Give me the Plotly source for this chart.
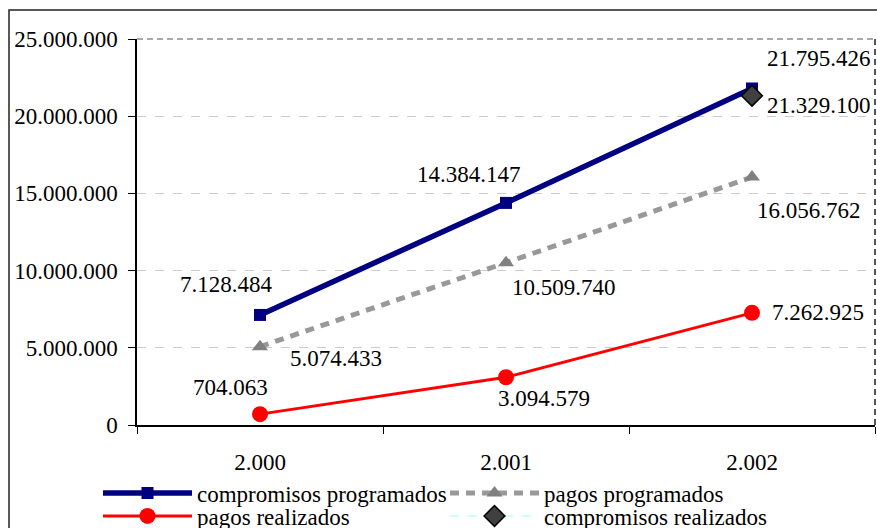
import plotly.graph_objects as go

# Datos
years = ["2.000", "2.001", "2.002"]
compromisos_programados = [7128484, 14384147, 21795426]
pagos_programados = [5074433, 10509740, 16056762]
pagos_realizados = [704063, 3094579, 7262925]
compromisos_realizados = [None, None, 21329100]

FONT = "Liberation Serif, Times New Roman, serif"
FS = 23


def fmt(v):
    return f"{v:,}".replace(",", ".")


fig = go.Figure()

fig.add_trace(go.Scatter(
    x=years, y=compromisos_programados, name="compromisos programados",
    mode="lines+markers", legend="legend",
    line=dict(color="#000080", width=5.5),
    marker=dict(symbol="square", size=12, color="#000080"),
))
fig.add_trace(go.Scatter(
    x=years, y=pagos_programados, name="pagos programados",
    mode="lines+markers", legend="legend",
    line=dict(color="#999999", width=5, dash="9px,7px"),
    marker=dict(symbol="triangle-up", size=14, color="#808080"),
))
fig.add_trace(go.Scatter(
    x=years, y=pagos_realizados, name="pagos realizados",
    mode="lines+markers", legend="legend2",
    line=dict(color="#ff0000", width=3),
    marker=dict(symbol="circle", size=16, color="#ff0000"),
))
fig.add_trace(go.Scatter(
    x=years, y=compromisos_realizados, name="compromisos realizados",
    mode="lines+markers", legend="legend2",
    line=dict(color="#ccffff", width=2, dash="dash"),
    marker=dict(symbol="diamond", size=16, color="#404040",
                line=dict(color="black", width=1.5)),
))

# Etiquetas de datos (desplazamientos en pixeles respecto al punto)
label_shifts = {
    "comp_prog": [(-34, 30), (-37, 28), (67, 30)],
    "pagos_prog": [(76, -12), (58, -25), (57, -33)],
    "pagos_real": [(-30, 27), (38, -21), (66, 0)],
    "comp_real": [None, None, (67, -10)],
}
series = {
    "comp_prog": compromisos_programados,
    "pagos_prog": pagos_programados,
    "pagos_real": pagos_realizados,
    "comp_real": compromisos_realizados,
}
for key, values in series.items():
    for i, (v, shift) in enumerate(zip(values, label_shifts[key])):
        if v is None:
            continue
        # indice de categoria: "2.000" se leeria como numero
        fig.add_annotation(
            x=i, y=v, text=fmt(v), showarrow=False,
            xshift=shift[0], yshift=shift[1],
            font=dict(family=FONT, size=FS, color="black"),
        )

# Area del grafico en pixeles (el body se deja sin margen, ver write_html)
L, T, R, B = 137, 39, 875, 425
plot_w, plot_h = R - L, B - T

# Bordes: marco exterior, borde superior y derecho discontinuos
fig.add_shape(type="rect", xref="paper", yref="paper",
              x0=(9 - L) / plot_w, x1=1.5,
              y0=-0.6, y1=(B - 10) / plot_h,
              line=dict(color="#222222", width=1.5), layer="below")
fig.add_shape(type="line", xref="paper", yref="paper", x0=0, x1=1, y0=1, y1=1,
              line=dict(color="#555555", width=1.2, dash="6px,4px"))
fig.add_shape(type="line", xref="paper", yref="paper", x0=1, x1=1, y0=0, y1=1,
              line=dict(color="#555555", width=2, dash="6px,4px"))

legend_style = dict(
    orientation="h", x=(98 - L) / plot_w, xanchor="left", yanchor="middle",
    entrywidth=243, entrywidthmode="pixels", itemwidth=89,
    font=dict(family=FONT, size=FS), bgcolor="rgba(0,0,0,0)",
)

fig.update_layout(
    width=877, height=528,
    margin=dict(l=L, r=877 - R, t=T, b=528 - B, autoexpand=False),
    paper_bgcolor="white", plot_bgcolor="white",
    separators=",.",
    font=dict(family=FONT, size=FS, color="black"),
    showlegend=True,
    legend=dict(legend_style, y=(B - 493) / plot_h),
    legend2=dict(legend_style, y=(B - 516) / plot_h),
)

fig.update_xaxes(
    type="category", range=[-0.5, 2.5], showgrid=False,
    showline=True, linecolor="black", linewidth=2,
    ticks="outside", tickson="boundaries", ticklen=7, tickcolor="black",
    ticklabelstandoff=15,
)
fig.update_yaxes(
    range=[0, 25000000], dtick=5000000, tickformat=",d",
    showgrid=True, gridcolor="#cccccc", griddash="dash", gridwidth=1,
    showline=True, linecolor="black", linewidth=1.5,
    ticks="outside", ticklen=7, tickcolor="black",
    ticklabelstandoff=6, zeroline=False,
)

fig.write_html(
    "out.html",
    config={"displayModeBar": False},
    post_script="document.body.style.margin = '0';",
)
